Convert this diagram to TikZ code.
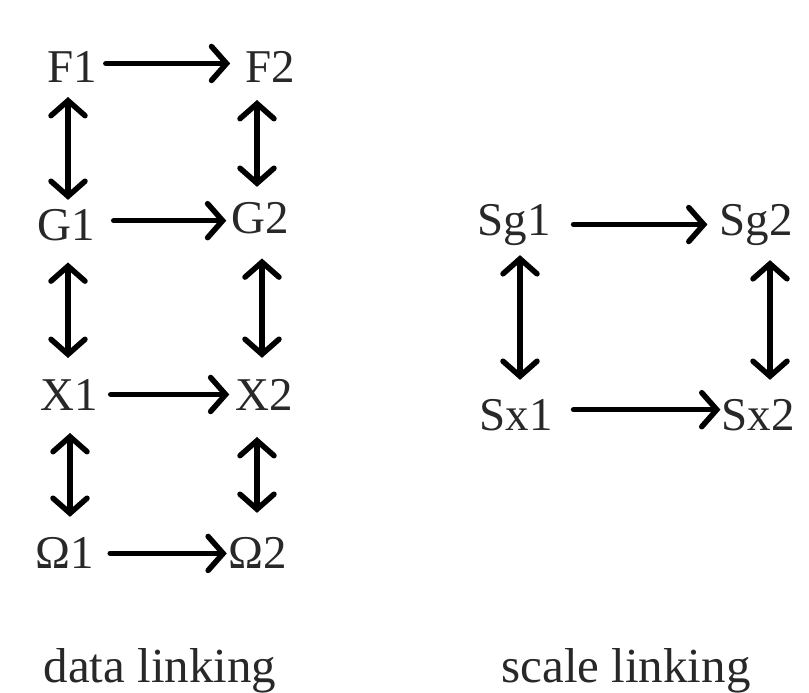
\documentclass[tikz,border=0pt]{standalone}
\usepackage{fontspec}
\setmainfont{Liberation Serif}
\usetikzlibrary{arrows.meta,calc}
\definecolor{txt}{RGB}{40,40,40}
\tikzset{
  lbl/.style={anchor=base, inner sep=0pt, outer sep=0pt, text=txt, font=\fontsize{47}{50}\selectfont},
  caption/.style={lbl, font=\fontsize{49}{52}\selectfont},
  link/.style={line width=5.5pt, line cap=round, line join=round, draw=black},
  harrow/.style={link, -{Straight Barb[length=15pt,width=34pt,line cap=round]}},
  varrow/.style={link, {Straight Barb[length=15pt,width=34pt,line cap=round]}-{Straight Barb[length=15pt,width=34pt,line cap=round]}}
}
\begin{document}
\begin{tikzpicture}[x=1pt,y=-1pt]
\useasboundingbox[fill=white] (0,0) rectangle (809,693);
% data linking column
\node[lbl] (F1) at (72,82) {F1};
\node[lbl] (F2) at (270,82) {F2};
\node[lbl] (G1) at (66,240) {G1};
\node[lbl] (G2) at (260,233) {G2};
\node[lbl] (X1) at (69,410) {X1};
\node[lbl] (X2) at (264,410) {X2};
\node[lbl] (O1) at (65,568) {Ω1};
\node[lbl] (O2) at (258,568) {Ω2};
% scale linking
\node[lbl] (Sg1) at (514,235) {Sg1};
\node[lbl] (Sg2) at (756,235) {Sg2};
\node[lbl] (Sx1) at (516,430) {Sx1};
\node[lbl] (Sx2) at (758,430) {Sx2};
% captions
\node[caption] (cap1) at (160,682) {data linking};
\node[caption] (cap2) at (626,682) {scale linking};
% horizontal arrows
\draw[harrow, shorten <=9pt, shorten >=15pt] ($(F1.east)+(0,-3)$) -- ($(F1.east -| F2.west)+(0,-3)$);
\draw[harrow, shorten <=19pt, shorten >=5pt] ($(G1.east)+(0,-4)$) -- ($(G1.east -| G2.west)+(0,-4)$);
\draw[harrow, shorten <=13pt, shorten >=6pt] ($(X1.east)+(0,0)$) -- ($(X1.east -| X2.west)+(0,0)$);
\draw[harrow, shorten <=16pt, shorten >=2pt] ($(O1.east)+(0,1)$) -- ($(O1.east -| O2.west)+(0,1)$);
\draw[harrow, shorten <=23pt, shorten >=12pt] ($(Sg1.east)+(0,0)$) -- ($(Sg1.east -| Sg2.west)+(0,0)$);
\draw[harrow, shorten <=21pt, shorten >=1pt] ($(Sx1.east)+(0,-5)$) -- ($(Sx1.east -| Sx2.west)+(0,-5)$);
% vertical double arrows
\draw[varrow, shorten <=15pt, shorten >=9pt] ($(F1.south)+(-4,0)$) -- ($(F1.south |- G1.north)+(-4,0)$);
\draw[varrow, shorten <=18pt, shorten >=15pt] ($(F2.south)+(-13,0)$) -- ($(F2.south |- G2.north)+(-13,0)$);
\draw[varrow, shorten <=22pt, shorten >=21pt] ($(G1.south)+(2,0)$) -- ($(G1.south |- X1.north)+(2,0)$);
\draw[varrow, shorten <=25pt, shorten >=21pt] ($(G2.south)+(2,0)$) -- ($(G2.south |- X2.north)+(2,0)$);
\draw[varrow, shorten <=23pt, shorten >=20pt] ($(X1.south)+(1,0)$) -- ($(X1.south |- O1.north)+(1,0)$);
\draw[varrow, shorten <=27pt, shorten >=24pt] ($(X2.south)+(-7,0)$) -- ($(X2.south |- O2.north)+(-7,0)$);
\draw[varrow, shorten <=10pt, shorten >=19pt] ($(Sg1.south)+(6,0)$) -- ($(Sg1.south |- Sx1.north)+(6,0)$);
\draw[varrow, shorten <=15pt, shorten >=19pt] ($(Sg2.south)+(14,0)$) -- ($(Sg2.south |- Sx2.north)+(14,0)$);
\end{tikzpicture}
\end{document}
